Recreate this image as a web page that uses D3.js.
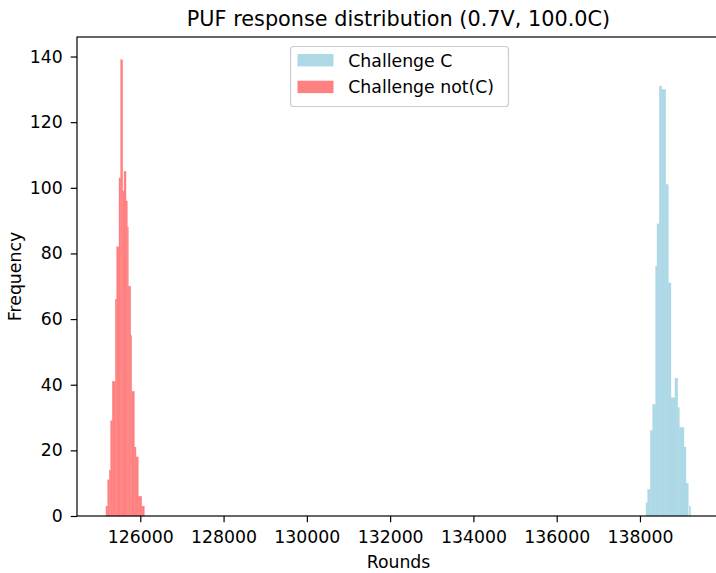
<!DOCTYPE html>
<html>
<head>
<meta charset="utf-8">
<title>PUF response distribution</title>
<script src="https://d3js.org/d3.v7.min.js"></script>
<style>
    body { margin: 0; background: #fff; }
    svg { font-family: "DejaVu Sans", sans-serif; }
</style>
</head>
<body>
<svg width="716" height="573"></svg>
<script>

// histogram bins (Rounds) and counts
const blueEdges = [138145, 138185, 138248, 138305, 138377, 138409, 138464, 138522, 138618, 138680,
                   138745, 138841, 138906, 138944, 139057, 139105, 139160, 139184, 139218];
const blueCounts = [4, 8, 26, 34, 76, 89, 131, 130, 101, 71, 36, 42, 33, 27, 21, 10, 0, 3];

const redEdges = [125176, 125217, 125256, 125289, 125328, 125400, 125433, 125489, 125529, 125577,
                  125609, 125657, 125688, 125712, 125770, 125794, 125856, 125897, 125952, 126034, 126096];
const redCounts = [3, 11, 14, 29, 41, 66, 82, 103, 139, 99, 105, 96, 88, 70, 55, 38, 21, 18, 6, 3];

const xTicks = [126000, 128000, 130000, 132000, 134000, 136000, 138000];
const yTicks = [0, 20, 40, 60, 80, 100, 120, 140];
const seriesNames = ["Challenge C", "Challenge not(C)"];
const seriesColors = ["#add8e6", "#ff8080"];

const svg = d3.select("svg"),
    box = { left: 77, right: 720, top: 37, bottom: 516 };

// matplotlib style 5% margins round the data
const x = d3.scaleLinear().domain([124480, 139922]).range([box.left, box.right]);
const y = d3.scaleLinear().domain([0, 145.95]).range([box.bottom, box.top]);

function toBins(edges, counts) {
    return counts.map((c, i) => ({ x0: edges[i], x1: edges[i + 1], count: c }));
}

const hists = [toBins(blueEdges, blueCounts), toBins(redEdges, redCounts)];

hists.forEach(function(bins, i) {
    svg.append("g")
        .selectAll("rect")
        .data(bins.filter(d => d.count > 0))
        .join("rect")
        .attr("x", d => x(d.x0))
        .attr("width", d => x(d.x1) - x(d.x0))
        .attr("y", d => y(d.count))
        .attr("height", d => y(0) - y(d.count))
        .attr("fill", seriesColors[i])
        .attr("stroke", seriesColors[i])   // hides the hairline seams between bins
        .attr("stroke-width", 0.4);
});

// axes
const xAxis = svg.append("g")
    .attr("transform", "translate(0," + box.bottom + ")")
    .call(d3.axisBottom(x).tickValues(xTicks).tickFormat(d3.format("d"))
        .tickSize(6.3).tickSizeOuter(0).tickPadding(8.5));

const yAxis = svg.append("g")
    .attr("transform", "translate(" + box.left + ",0)")
    .call(d3.axisLeft(y).tickValues(yTicks).tickSize(6.3).tickSizeOuter(0).tickPadding(8));

[xAxis, yAxis].forEach(function(a) {
    a.selectAll("text").style("font-size", "17.3px").attr("fill", "#000")
        .style("font-family", "'DejaVu Sans', sans-serif");
    a.selectAll("line").attr("stroke", "#000").attr("stroke-width", 1.2);
    a.select(".domain").remove();
});

// frame
svg.append("rect")
    .attr("x", box.left)
    .attr("y", box.top)
    .attr("width", box.right - box.left)
    .attr("height", box.bottom - box.top)
    .attr("fill", "none")
    .attr("stroke", "#000")
    .attr("stroke-width", 1.2);

// title and labels
svg.append("text")
    .attr("x", (box.left + box.right) / 2)
    .attr("y", 26)
    .attr("text-anchor", "middle")
    .style("font-size", "20.8px")
    .text("PUF response distribution (0.7V, 100.0C)");

svg.append("text")
    .attr("x", (box.left + box.right) / 2)
    .attr("y", 568)
    .attr("text-anchor", "middle")
    .style("font-size", "17.3px")
    .text("Rounds");

svg.append("text")
    .attr("transform", "translate(21," + ((box.top + box.bottom) / 2) + ") rotate(-90)")
    .attr("text-anchor", "middle")
    .style("font-size", "17.3px")
    .text("Frequency");

// legend
const legend = svg.append("g");
legend.append("rect")
    .attr("x", 290.5)
    .attr("y", 46.5)
    .attr("width", 218)
    .attr("height", 60)
    .attr("rx", 3)
    .attr("fill", "#fff")
    .attr("fill-opacity", 0.8)
    .attr("stroke", "#cccccc")
    .attr("stroke-width", 1.2);

seriesNames.forEach(function(name, i) {
    legend.append("rect")
        .attr("x", 297.5)
        .attr("y", 54 + i * 26.7)
        .attr("width", 36)
        .attr("height", 12.4)
        .attr("fill", seriesColors[i]);
    legend.append("text")
        .attr("x", 348.3)
        .attr("y", 66.6 + i * 26.7)
        .style("font-size", "17.3px")
        .text(name);
});

</script>
</body>
</html>
